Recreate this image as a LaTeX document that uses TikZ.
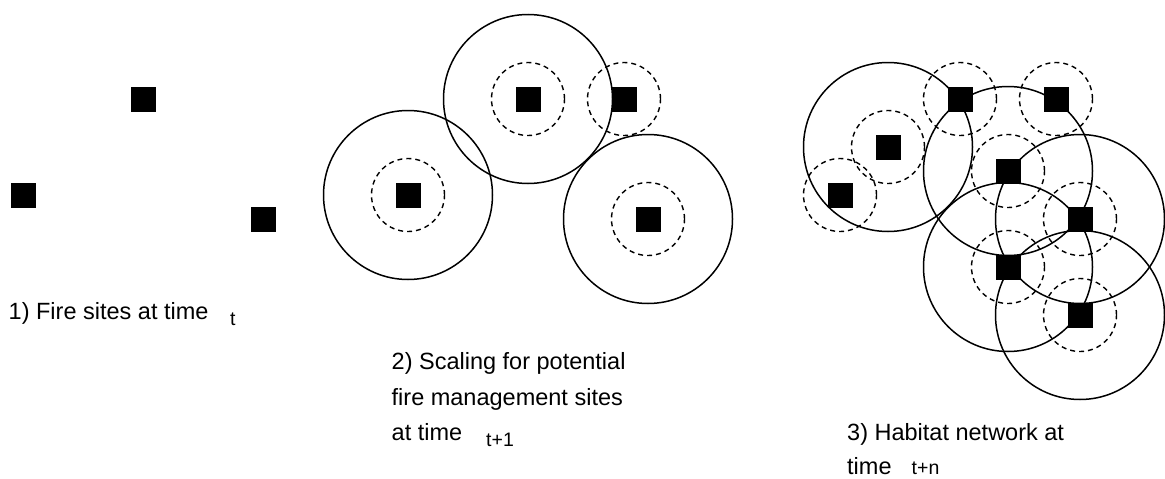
\documentclass[tikz,border=0pt]{standalone}
\usepackage{fontspec}
\setmainfont{Liberation Sans}
\begin{document}
\begin{tikzpicture}[x=1pt,y=-1pt,
  site/.style={rectangle,fill=black,minimum size=25pt,inner sep=0pt},
  rangering/.style={circle,draw=black,line width=1.5pt,minimum size=169pt,inner sep=0pt},
  bufferring/.style={circle,draw=black,line width=1.4pt,dash pattern=on 5pt off 4pt,minimum size=73pt,inner sep=0pt},
  caption/.style={anchor=base west,inner sep=0pt,font=\fontsize{23.5}{35.6}\selectfont},
  timelabel/.style={anchor=base west,inner sep=0pt,font=\fontsize{19.5}{22}\selectfont}]
\useasboundingbox (0,0) rectangle (1165,479);

% ---------- Panel 1 ----------
\node[site] (a1) at (143.5,99) {};
\node[site] (a2) at (23.5,195) {};
\node[site] (a3) at (263.5,219) {};
\node[caption] (c1) at (8.5,319.3) {1) Fire sites at time};
\node[timelabel] (t1) at (230,325.5) {t};

% ---------- Panel 2 ----------
\node[rangering] (rb1) at (408,195) {};
\node[rangering] (rb2) at (528,99) {};
\node[rangering] (rb4) at (648,219) {};
\node[bufferring] (db1) at (408,195) {};
\node[bufferring] (db2) at (528,99) {};
\node[bufferring] (db3) at (624,99) {};
\node[bufferring] (db4) at (648,219) {};
\node[site] (b1) at (408,195) {};
\node[site] (b2) at (528,99) {};
\node[site] (b3) at (624,99) {};
\node[site] (b4) at (648,219) {};
\node[caption] (c2a) at (391.5,369.3) {2) Scaling for potential};
\node[caption] (c2b) at (391.5,405.3) {fire management sites};
\node[caption] (c2c) at (391.5,440.7) {at time};
\node[timelabel] (t2) at (486,446.5) {t+1};

% ---------- Panel 3 ----------
\node[rangering] (rc2) at (888,147) {};
\node[rangering] (rc5) at (1008,171) {};
\node[rangering] (rc6) at (1080,219) {};
\node[rangering] (rc7) at (1008,267) {};
\node[rangering] (rc8) at (1080,315) {};
\node[bufferring] (dc1) at (840,195) {};
\node[bufferring] (dc2) at (888,147) {};
\node[bufferring] (dc3) at (960,99) {};
\node[bufferring] (dc4) at (1056,99) {};
\node[bufferring] (dc5) at (1008,171) {};
\node[bufferring] (dc6) at (1080,219) {};
\node[bufferring] (dc7) at (1008,267) {};
\node[bufferring] (dc8) at (1080,315) {};
\node[site] (e1) at (840,195) {};
\node[site] (e2) at (888,147) {};
\node[site] (e3) at (960,99) {};
\node[site] (e4) at (1056,99) {};
\node[site] (e5) at (1008,171) {};
\node[site] (e6) at (1080,219) {};
\node[site] (e7) at (1008,267) {};
\node[site] (e8) at (1080,315) {};
\node[caption] (c3a) at (847,440) {3) Habitat network at};
\node[caption] (c3b) at (847,474.5) {time};
\node[timelabel] (t3) at (911.5,474.5) {t+n};
\end{tikzpicture}
\end{document}
